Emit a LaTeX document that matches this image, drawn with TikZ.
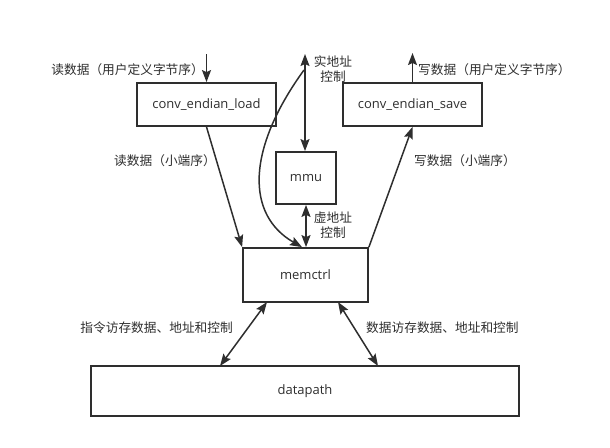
\documentclass[tikz,border=0pt]{standalone}
\usepackage{fontspec}
\setmainfont{Open Sans}
\newfontfamily\cjk{Noto Sans CJK SC}
\usetikzlibrary{arrows.meta}
\definecolor{ink}{HTML}{2E2E2E}
\tikzset{
  box/.style={draw=ink, line width=1.8pt, rectangle, inner sep=0pt, text=ink, font=\fontsize{13}{15}\selectfont},
  lbl/.style={inner sep=0pt, text=ink, font=\cjk\fontsize{12.7}{15.5}\selectfont, align=center},
  tip/.style={Stealth[length=12pt,width=9pt,inset=2pt]},
  conn/.style={draw=ink, line width=1.5pt, -{Stealth[length=12pt,width=9pt,inset=2pt]}},
  conn2/.style={draw=ink, line width=1.5pt, {Stealth[length=12pt,width=9pt,inset=2pt]}-{Stealth[length=12pt,width=9pt,inset=2pt]}}
}
\begin{document}
\begin{tikzpicture}[x=1pt,y=-1pt]
\useasboundingbox (0,0) rectangle (610,447);
\node[box, minimum width=139pt, minimum height=43pt] (load) at (206.5,104.5) {conv\_endian\_load};
\node[box, minimum width=139pt, minimum height=43pt] (save) at (412.5,104.5) {conv\_endian\_save};
\node[box, minimum width=60pt, minimum height=52pt] (mmu) at (306,178) {mmu};
\node[box, minimum width=125pt, minimum height=54pt] (memctrl) at (305.5,275) {memctrl};
\node[box, minimum width=428pt, minimum height=50pt] (datapath) at (305,391) {datapath};

\coordinate (inTop) at (206.5,54);
\coordinate (outTop) at (412.5,53);
\coordinate (phys) at (305,54);
\coordinate (curveTop) at (304,70);
\coordinate (memIn) at (302,248);

\draw[conn] (inTop) -- (load.north);
\draw[conn] (load.north -| save.north) -- (outTop);
\draw[conn2] (phys) -- (phys |- mmu.north);
\draw[conn] (curveTop) .. controls (246,150) and (246,215) .. (memctrl.north -| memIn);
\draw[conn2] (mmu.south) -- (memctrl.north -| mmu.south);
\draw[conn] (load.south) -- (memctrl.north west);
\draw[conn] (memctrl.north east) -- (save.south);
\draw[conn2] (267,302) coordinate (a1) -- (220,366) coordinate (b1);
\draw[conn2] (338,302) coordinate (a2) -- (378,366) coordinate (b2);

\node[lbl, anchor=east] (t1) at (204,70) {读数据（用户定义字节序）};
\node[lbl, anchor=west] (t2) at (418,70) {写数据（用户定义字节序）};
\node[lbl] (t3) at (165,161) {读数据（小端序）};
\node[lbl] (t4) at (465,161) {写数据（小端序）};
\node[lbl] (t5) at (333,69) {实地址\\控制};
\node[lbl] (t6) at (333,225) {虚地址\\控制};
\node[lbl, anchor=east] (t7) at (233,328) {指令访存数据、地址和控制};
\node[lbl, anchor=west] (t8) at (366,328) {数据访存数据、地址和控制};
\end{tikzpicture}
\end{document}
